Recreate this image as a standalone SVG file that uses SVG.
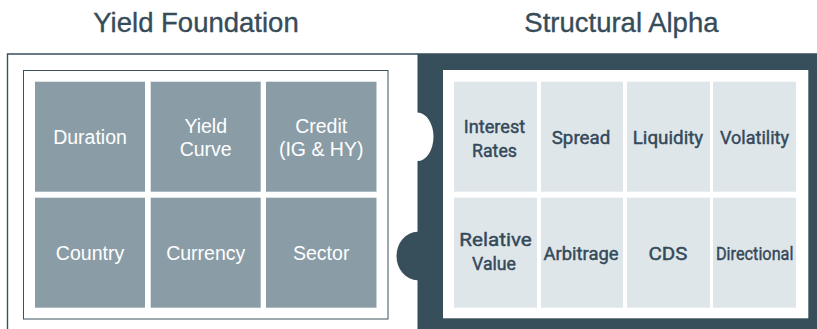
<svg xmlns="http://www.w3.org/2000/svg" width="817" height="329" viewBox="0 0 817 329">
<style>
.title{font-family:"Liberation Sans",Arial,sans-serif;font-size:27.5px;fill:#374c59;stroke:#374c59;stroke-width:0.35px;text-anchor:middle}
.lt{fill:#8a9da7}
.rt{fill:#dfe6e9}
.ltx{font-family:"Liberation Sans",Arial,sans-serif;font-size:19.5px;fill:#ffffff;text-anchor:middle}
.rtx{font-family:Roboto,"Liberation Sans",sans-serif;font-weight:400;font-size:19px;fill:#34495a;stroke:#34495a;stroke-width:0.45px;text-anchor:middle}
</style>
<rect width="817" height="329" fill="#ffffff"/>
<g id="yield-foundation">
<text class="title" x="196" y="32.3">Yield Foundation</text>
<path d="M7.5,329 V54 H418" fill="none" stroke="#3a4f5c" stroke-width="1.4"/>
<rect x="23.5" y="70.5" width="364.5" height="248.5" fill="#ffffff" stroke="#3d525e" stroke-width="1"/>
</g>
<g id="structural-alpha">
<text class="title" x="621.4" y="32.3">Structural Alpha</text>
<path d="M417.5,53.3 H817 V329 H417.5 V280.2 A21 24.2 0 0 1 417.5,231.8 V161 A16 24.2 0 0 0 417.5,112.6 Z" fill="#374e5b"/>
<rect x="443" y="70" width="365.3" height="248.3" fill="#ffffff"/>
</g>
<g id="duration"><rect class="lt" x="35" y="81.7" width="110" height="110"/><text class="ltx" x="90" y="143.5">Duration</text></g>
<g id="yield-curve"><rect class="lt" x="150.7" y="81.7" width="110" height="110"/><text class="ltx" x="205.7" y="132.7">Yield</text><text class="ltx" x="205.7" y="156">Curve</text></g>
<g id="credit"><rect class="lt" x="266" y="81.7" width="110.5" height="110"/><text class="ltx" x="321.2" y="132.7">Credit</text><text class="ltx" x="321.2" y="156">(IG &amp; HY)</text></g>
<g id="country"><rect class="lt" x="35" y="197.7" width="110" height="110"/><text class="ltx" x="90" y="259.5">Country</text></g>
<g id="currency"><rect class="lt" x="150.7" y="197.7" width="110" height="110"/><text class="ltx" x="205.7" y="259.5">Currency</text></g>
<g id="sector"><rect class="lt" x="266" y="197.7" width="110.5" height="110"/><text class="ltx" x="321.2" y="259.5">Sector</text></g>
<g id="interest-rates"><rect class="rt" x="454" y="81.7" width="83" height="110"/><text class="rtx" x="494.5" y="132.7" textLength="61.5" lengthAdjust="spacingAndGlyphs">Interest</text><text class="rtx" x="494.5" y="156.7" textLength="45" lengthAdjust="spacingAndGlyphs">Rates</text></g>
<g id="spread"><rect class="rt" x="541" y="81.7" width="82" height="110"/><text class="rtx" x="581" y="144.3" textLength="58.5" lengthAdjust="spacingAndGlyphs">Spread</text></g>
<g id="liquidity"><rect class="rt" x="627" y="81.7" width="83" height="110"/><text class="rtx" x="668" y="144.3" textLength="70.5" lengthAdjust="spacingAndGlyphs">Liquidity</text></g>
<g id="volatility"><rect class="rt" x="713" y="81.7" width="83" height="110"/><text class="rtx" x="754.5" y="144.3" textLength="69" lengthAdjust="spacingAndGlyphs">Volatility</text></g>
<g id="relative-value"><rect class="rt" x="454" y="197.7" width="83" height="110"/><text class="rtx" x="495.5" y="246.3" textLength="72.5" lengthAdjust="spacingAndGlyphs">Relative</text><text class="rtx" x="494" y="270.3" textLength="44" lengthAdjust="spacingAndGlyphs">Value</text></g>
<g id="arbitrage"><rect class="rt" x="541" y="197.7" width="82" height="110"/><text class="rtx" x="581" y="259.5" textLength="75" lengthAdjust="spacingAndGlyphs">Arbitrage</text></g>
<g id="cds"><rect class="rt" x="627" y="197.7" width="83" height="110"/><text class="rtx" x="668" y="259.5" textLength="39" lengthAdjust="spacingAndGlyphs">CDS</text></g>
<g id="directional"><rect class="rt" x="713" y="197.7" width="83" height="110"/><text class="rtx" x="754.7" y="259.5" textLength="77.5" lengthAdjust="spacingAndGlyphs">Directional</text></g>
<g id="connectors"/>
</svg>
